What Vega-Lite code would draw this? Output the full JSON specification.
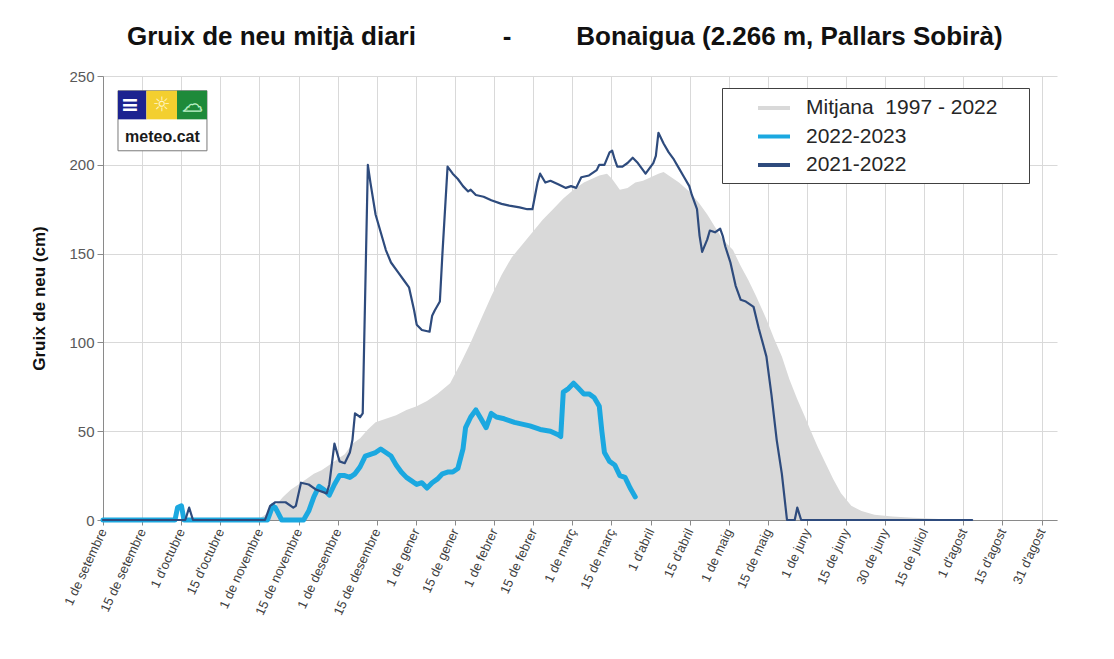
{
  "$schema": "https://vega.github.io/schema/vega-lite/v6.json",
  "width": 954,
  "height": 444,
  "autosize": {"type": "none"},
  "padding": {"left": 103, "top": 76, "right": 57, "bottom": 139},
  "background": "white",
  "config": {
    "view": {"stroke": null},
    "font": "Liberation Sans"
  },
  "title": {
    "text": "Gruix de neu mitjà diari\u00a0\u00a0\u00a0\u00a0\u00a0\u00a0\u00a0\u00a0\u00a0\u00a0\u00a0\u00a0-\u00a0\u00a0\u00a0\u00a0\u00a0\u00a0\u00a0\u00a0\u00a0Bonaigua (2.266 m, Pallars Sobirà)",
    "anchor": "start",
    "frame": "group",
    "dx": 24,
    "fontSize": 26,
    "fontWeight": "bold",
    "font": "Liberation Sans",
    "color": "#111111",
    "baseline": "alphabetic",
    "offset": -2
  },
  "datasets": {
    "mean": [
      {"d":0,"v":0},{"d":58,"v":0},{"d":61,"v":1},{"d":64,"v":4},{"d":67,"v":8},{"d":70,"v":13},{"d":73,"v":17},{"d":76,"v":20},{"d":79,"v":23},{"d":82,"v":26},{"d":85,"v":28},{"d":88,"v":31},{"d":91,"v":34},{"d":94,"v":37},{"d":97,"v":43},{"d":100,"v":46},{"d":103,"v":51},{"d":106,"v":55},{"d":110,"v":57},{"d":114,"v":59},{"d":118,"v":62},{"d":122,"v":64},{"d":126,"v":67},{"d":130,"v":71},{"d":135,"v":77},{"d":139,"v":88},{"d":143,"v":100},{"d":147,"v":113},{"d":151,"v":126},{"d":155,"v":138},{"d":159,"v":148},{"d":163,"v":155},{"d":167,"v":162},{"d":171,"v":169},{"d":175,"v":175},{"d":179,"v":181},{"d":183,"v":186},{"d":187,"v":190},{"d":190,"v":192},{"d":193,"v":194},{"d":196,"v":195},{"d":198,"v":192},{"d":201,"v":186},{"d":204,"v":187},{"d":207,"v":190},{"d":210,"v":191},{"d":213,"v":193},{"d":216,"v":195},{"d":218,"v":196},{"d":221,"v":193},{"d":224,"v":190},{"d":228,"v":185},{"d":232,"v":178},{"d":235,"v":172},{"d":238,"v":165},{"d":241,"v":158},{"d":245,"v":152},{"d":248,"v":143},{"d":251,"v":135},{"d":254,"v":126},{"d":258,"v":113},{"d":261,"v":102},{"d":264,"v":92},{"d":267,"v":79},{"d":270,"v":68},{"d":273,"v":58},{"d":275,"v":51},{"d":278,"v":41},{"d":281,"v":32},{"d":284,"v":23},{"d":287,"v":15},{"d":291,"v":8},{"d":295,"v":5},{"d":300,"v":3},{"d":307,"v":2},{"d":315,"v":1.2},{"d":325,"v":0.5},{"d":338,"v":0},{"d":365,"v":0}
    ],
    "s2223": [
      {"d":0,"v":0},{"d":28,"v":0},{"d":29,"v":7},{"d":30.5,"v":8},{"d":31.5,"v":0},{"d":64,"v":0},{"d":66,"v":8},{"d":67,"v":7},{"d":69.5,"v":0},{"d":78,"v":0},{"d":80,"v":5},{"d":82,"v":13},{"d":84,"v":19},{"d":86,"v":17},{"d":88,"v":14},{"d":90,"v":20},{"d":92,"v":25},{"d":94,"v":25},{"d":96,"v":24},{"d":98,"v":26},{"d":100,"v":30},{"d":102,"v":36},{"d":104,"v":37},{"d":106,"v":38},{"d":108,"v":40},{"d":110,"v":38},{"d":112,"v":36},{"d":114,"v":31},{"d":116,"v":27},{"d":118,"v":24},{"d":120,"v":22},{"d":122,"v":20},{"d":124,"v":21},{"d":126,"v":18},{"d":128,"v":21},{"d":130,"v":23},{"d":132,"v":26},{"d":134,"v":27},{"d":136,"v":27},{"d":138,"v":29},{"d":140,"v":40},{"d":141,"v":52},{"d":143,"v":58},{"d":145,"v":62},{"d":147,"v":57},{"d":149,"v":52},{"d":151,"v":60},{"d":153,"v":58},{"d":156,"v":57},{"d":158,"v":56},{"d":160,"v":55},{"d":163,"v":54},{"d":166,"v":53},{"d":170,"v":51},{"d":174,"v":50},{"d":177,"v":48},{"d":178,"v":47},{"d":179,"v":72},{"d":181,"v":74},{"d":183,"v":77},{"d":185,"v":74},{"d":187,"v":71},{"d":189,"v":71},{"d":191,"v":69},{"d":193,"v":64},{"d":194,"v":50},{"d":195,"v":38},{"d":197,"v":33},{"d":199,"v":31},{"d":201,"v":25},{"d":203,"v":24},{"d":204,"v":21},{"d":205,"v":18},{"d":207,"v":13}
    ],
    "s2122": [
      {"d":0,"v":0},{"d":32,"v":0},{"d":33.5,"v":7},{"d":35,"v":0},{"d":63,"v":0},{"d":65,"v":8},{"d":67,"v":10},{"d":71,"v":10},{"d":74,"v":7},{"d":75,"v":8},{"d":77,"v":21},{"d":80,"v":20},{"d":83,"v":17},{"d":87,"v":15},{"d":88,"v":20},{"d":90,"v":43},{"d":92,"v":33},{"d":94,"v":32},{"d":96,"v":38},{"d":97,"v":45},{"d":98,"v":60},{"d":100,"v":58},{"d":101,"v":60},{"d":103,"v":200},{"d":104,"v":190},{"d":106,"v":172},{"d":108,"v":162},{"d":110,"v":152},{"d":112,"v":145},{"d":115,"v":139},{"d":117,"v":135},{"d":119,"v":131},{"d":121,"v":118},{"d":122,"v":110},{"d":124,"v":107},{"d":127,"v":106},{"d":128,"v":115},{"d":129,"v":118},{"d":131,"v":123},{"d":132,"v":150},{"d":134,"v":199},{"d":136,"v":195},{"d":138,"v":192},{"d":140,"v":188},{"d":142,"v":185},{"d":143,"v":186},{"d":145,"v":183},{"d":148,"v":182},{"d":151,"v":180},{"d":155,"v":178},{"d":158,"v":177},{"d":162,"v":176},{"d":165,"v":175},{"d":167,"v":175},{"d":169,"v":190},{"d":170,"v":195},{"d":172,"v":190},{"d":174,"v":191},{"d":177,"v":189},{"d":180,"v":187},{"d":182,"v":188},{"d":184,"v":187},{"d":186,"v":193},{"d":189,"v":194},{"d":192,"v":197},{"d":193,"v":200},{"d":195,"v":200},{"d":197,"v":207},{"d":198,"v":208},{"d":199,"v":203},{"d":200,"v":199},{"d":202,"v":199},{"d":204,"v":201},{"d":206,"v":204},{"d":208,"v":201},{"d":210,"v":197},{"d":211,"v":195},{"d":213,"v":199},{"d":214,"v":201},{"d":215,"v":205},{"d":216,"v":218},{"d":218,"v":212},{"d":220,"v":207},{"d":222,"v":203},{"d":224,"v":198},{"d":226,"v":193},{"d":228,"v":188},{"d":229,"v":183},{"d":231,"v":175},{"d":232,"v":160},{"d":233,"v":151},{"d":235,"v":158},{"d":236,"v":163},{"d":238,"v":162},{"d":240,"v":164},{"d":241,"v":160},{"d":242,"v":154},{"d":244,"v":145},{"d":246,"v":132},{"d":248,"v":124},{"d":250,"v":123},{"d":252,"v":121},{"d":253,"v":120},{"d":255,"v":108},{"d":258,"v":92},{"d":260,"v":70},{"d":262,"v":45},{"d":264,"v":26},{"d":266,"v":0},{"d":269,"v":0},{"d":270,"v":7},{"d":271.5,"v":0},{"d":338,"v":0}
    ]
  },
  "layer": [
    {
      "data": {"name": "mean"},
      "mark": {"type": "area", "opacity": 1, "interpolate": "linear"},
      "encoding": {
        "x": {
          "field": "d",
          "type": "quantitative",
          "scale": {"domain": [0, 371], "nice": false, "zero": false},
          "axis": {
            "title": null,
            "values": [0,15.2083,30.4167,45.625,60.8333,76.0417,91.25,106.4583,121.6667,136.875,152.0833,167.2917,182.5,197.7083,212.9167,228.125,243.3333,258.5417,273.75,288.9583,304.1667,319.375,334.5833,349.7917,365],
            "tickCount": 40,
            "labelExpr": "[\"1 de setembre\",\"15 de setembre\",\"1 d'octubre\",\"15 d'octubre\",\"1 de novembre\",\"15 de novembre\",\"1 de desembre\",\"15 de desembre\",\"1 de gener\",\"15 de gener\",\"1 de febrer\",\"15 de febrer\",\"1 de març\",\"15 de març\",\"1 d'abril\",\"15 d'abril\",\"1 de maig\",\"15 de maig\",\"1 de juny\",\"15 de juny\",\"30 de juny\",\"15 de juliol\",\"1 d'agost\",\"15 d'agost\",\"31 d'agost\"][round(datum.value/15.2083)]",
            "labelAngle": -65,
            "labelAlign": "right",
            "labelBaseline": "middle",
            "labelFontSize": 13,
            "labelColor": "#404040",
            "labelPadding": 4,
            "labelOverlap": false,
            "labelFlush": false,
            "labelBound": false,
            "tickSize": 5,
            "tickColor": "#8a8a8a",
            "domainColor": "#8a8a8a",
            "grid": true,
            "gridColor": "#d9d9d9",
            "gridWidth": 1
          }
        },
        "y": {
          "field": "v",
          "type": "quantitative",
          "scale": {"domain": [0, 250], "nice": false},
          "axis": {
            "title": "Gruix de neu (cm)",
            "titleFontSize": 17,
            "titleFontWeight": "bold",
            "titleColor": "#111111",
            "titlePadding": 20,
            "values": [0, 50, 100, 150, 200, 250],
            "tickCount": 10,
            "labelFontSize": 15,
            "labelColor": "#595959",
            "labelPadding": 3,
            "tickSize": 6,
            "tickColor": "#8a8a8a",
            "domainColor": "#8a8a8a",
            "grid": true,
            "gridColor": "#d9d9d9",
            "gridWidth": 1
          }
        },
        "color": {
          "datum": "Mitjana 1997 - 2022",
          "scale": {
            "domain": ["Mitjana 1997 - 2022", "2022-2023", "2021-2022"],
            "range": ["#d9d9d9", "#1ba8e0", "#2e4b7d"]
          },
          "legend": {
            "title": null,
            "orient": "none",
            "legendX": 619,
            "legendY": 12,
            "direction": "vertical",
            "padding": 8,
            "rowPadding": 6.5,
            "fillColor": "white",
            "strokeColor": "#404040",
            "symbolType": "M1.6,0H4.8",
            "symbolSize": 400,
            "symbolStrokeWidth": 4,
            "labelFontSize": 21,
            "labelColor": "#262626",
            "labelFont": "Liberation Sans",
            "labelOffset": 52,
            "labelLimit": 400,
            "labelExpr": "(indexof(datum.label, 'Mitjana') >= 0 ? 'Mitjana\u00a0\u00a01997 - 2022' : datum.label) + '\u00a0\u00a0\u00a0\u00a0\u200b'"
          }
        }
      }
    },
    {
      "data": {"values": [{}]},
      "mark": {"type": "rect", "fill": "white", "stroke": "#7a7a7a", "strokeWidth": 1},
      "encoding": {
        "x": {"datum": 5.83, "type": "quantitative"},
        "x2": {"datum": 40.43},
        "y": {"datum": 241.7, "type": "quantitative"},
        "y2": {"datum": 207.9}
      }
    },
    {
      "data": {"values": [{}]},
      "mark": {"type": "rect", "fill": "#1c2390"},
      "encoding": {
        "x": {"datum": 5.83, "type": "quantitative"},
        "x2": {"datum": 16.87},
        "y": {"datum": 241.7, "type": "quantitative"},
        "y2": {"datum": 225.6}
      }
    },
    {
      "data": {"values": [{}]},
      "mark": {"type": "rect", "fill": "#f3cf2f"},
      "encoding": {
        "x": {"datum": 16.87, "type": "quantitative"},
        "x2": {"datum": 28.77},
        "y": {"datum": 241.7, "type": "quantitative"},
        "y2": {"datum": 225.6}
      }
    },
    {
      "data": {"values": [{}]},
      "mark": {"type": "rect", "fill": "#1e8a3a"},
      "encoding": {
        "x": {"datum": 28.77, "type": "quantitative"},
        "x2": {"datum": 40.43},
        "y": {"datum": 241.7, "type": "quantitative"},
        "y2": {"datum": 225.6}
      }
    },
    {
      "data": {"values": [{}]},
      "mark": {"type": "text", "text": "≡", "fontSize": 22, "fontWeight": "bold", "font": "DejaVu Sans", "fill": "white", "align": "center", "baseline": "middle"},
      "encoding": {
        "x": {"datum": 10.5, "type": "quantitative"},
        "y": {"datum": 233.7, "type": "quantitative"}
      }
    },
    {
      "data": {"values": [{}]},
      "mark": {"type": "text", "text": "☼", "fontSize": 20, "font": "DejaVu Sans", "fill": "#fff6c8", "align": "center", "baseline": "middle"},
      "encoding": {
        "x": {"datum": 22.8, "type": "quantitative"},
        "y": {"datum": 233.7, "type": "quantitative"}
      }
    },
    {
      "data": {"values": [{}]},
      "mark": {"type": "text", "text": "☁", "fontSize": 20, "font": "DejaVu Sans", "fill": "#1e8a3a", "stroke": "#b9f0c6", "strokeWidth": 1.2, "align": "center", "baseline": "middle"},
      "encoding": {
        "x": {"datum": 34.8, "type": "quantitative"},
        "y": {"datum": 233.7, "type": "quantitative"}
      }
    },
    {
      "data": {"values": [{}]},
      "mark": {"type": "text", "text": "meteo.cat", "fontSize": 16, "fontWeight": "bold", "font": "Liberation Sans", "fill": "#1a1a1a", "align": "center", "baseline": "middle"},
      "encoding": {
        "x": {"datum": 23.1, "type": "quantitative"},
        "y": {"datum": 215.8, "type": "quantitative"}
      }
    },
    {
      "data": {"name": "s2223"},
      "mark": {"type": "line", "strokeWidth": 5, "strokeJoin": "round", "strokeCap": "round", "opacity": 1},
      "encoding": {
        "x": {"field": "d", "type": "quantitative"},
        "y": {"field": "v", "type": "quantitative"},
        "color": {"datum": "2022-2023"}
      }
    },
    {
      "data": {"name": "s2122"},
      "mark": {"type": "line", "strokeWidth": 2.2, "strokeJoin": "round", "strokeCap": "round", "opacity": 1},
      "encoding": {
        "x": {"field": "d", "type": "quantitative"},
        "y": {"field": "v", "type": "quantitative"},
        "color": {"datum": "2021-2022"}
      }
    }
  ]
}
